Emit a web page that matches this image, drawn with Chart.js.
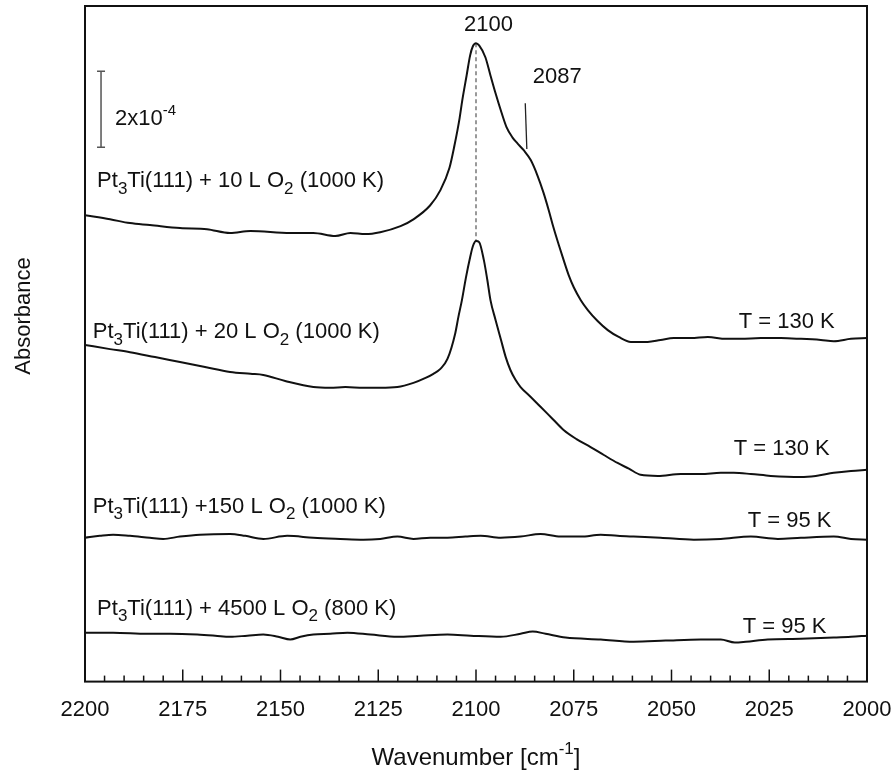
<!DOCTYPE html>
<html>
<head>
<meta charset="utf-8">
<script src="https://cdn.jsdelivr.net/npm/chart.js@4.4.1/dist/chart.umd.min.js"></script>
<style>
  body { margin: 0; background: #fff; }
  canvas { display: block; }
</style>
</head>
<body>
<canvas id="irChart" width="894" height="773"></canvas>
<script>
// IRAS spectra of CO on oxidised Pt3Ti(111), stacked with offsets (units of 1e-4)
const wn10  = [2200, 2193.6, 2188.5, 2183.4, 2175.7, 2168.8, 2162.9, 2157.7, 2147.5, 2141.6, 2136.0, 2132.1, 2128.3, 2124.5, 2119.3, 2116.0, 2111.7, 2109.1, 2106.8, 2105.5, 2104.2, 2103.5, 2102.4, 2101.5, 2100.8, 2100.0, 2099.2, 2097.6, 2096.3, 2095.0, 2093.5, 2092.2, 2090.7, 2089.4, 2087.8, 2086.0, 2084.3, 2082.7, 2081.4, 2080.2, 2078.9, 2077.6, 2076.3, 2075.0, 2073.2, 2071.4, 2068.9, 2066.3, 2063.5, 2060.4, 2056.1, 2052.8, 2049.4, 2045.1, 2040.7, 2036.1, 2032.3, 2027.1, 2022.0, 2016.9, 2011.8, 2008.5, 2004.1, 2000];
const abs10 = [12.29, 12.18, 12.08, 12.03, 11.95, 11.92, 11.82, 11.87, 11.82, 11.82, 11.74, 11.82, 11.79, 11.84, 12.00, 12.18, 12.55, 12.95, 13.53, 14.13, 14.84, 15.32, 15.97, 16.50, 16.74, 16.82, 16.76, 16.45, 15.97, 15.50, 15.00, 14.61, 14.34, 14.18, 14.00, 13.74, 13.34, 12.87, 12.42, 11.97, 11.53, 11.11, 10.71, 10.39, 10.05, 9.79, 9.50, 9.26, 9.08, 8.95, 8.95, 9.00, 9.05, 9.05, 9.08, 9.03, 9.03, 9.05, 9.05, 9.03, 9.00, 8.97, 9.03, 9.05];

const wn20  = [2200, 2193.6, 2188.5, 2182.1, 2175.7, 2169.3, 2162.9, 2157.7, 2154.4, 2148.8, 2141.6, 2137.3, 2133.4, 2128.8, 2124.5, 2120.1, 2116.0, 2112.9, 2110.9, 2109.1, 2107.3, 2105.3, 2104.5, 2103.6, 2102.6, 2101.5, 2100.8, 2100.0, 2099.2, 2098.0, 2097.1, 2096.3, 2095.0, 2093.6, 2092.4, 2091.2, 2089.9, 2088.6, 2086.0, 2083.5, 2080.4, 2077.6, 2074.3, 2070.7, 2067.3, 2063.8, 2060.9, 2057.9, 2053.5, 2047.6, 2042.5, 2037.4, 2034.1, 2029.7, 2024.6, 2016.9, 2013.1, 2008.5, 2004.1, 2000];
const abs20 = [8.87, 8.76, 8.68, 8.55, 8.42, 8.29, 8.16, 8.11, 8.08, 7.92, 7.76, 7.74, 7.76, 7.74, 7.74, 7.76, 7.87, 8.00, 8.11, 8.24, 8.50, 9.18, 9.61, 10.05, 10.63, 11.18, 11.47, 11.61, 11.58, 11.11, 10.58, 10.05, 9.53, 9.00, 8.55, 8.21, 7.95, 7.76, 7.50, 7.24, 6.92, 6.63, 6.39, 6.18, 5.97, 5.76, 5.61, 5.45, 5.42, 5.47, 5.47, 5.50, 5.50, 5.47, 5.42, 5.39, 5.42, 5.50, 5.55, 5.58];

const wn150  = [2200, 2196.2, 2192.8, 2188.5, 2183.4, 2180.0, 2175.7, 2170.6, 2162.9, 2159.0, 2154.4, 2148.3, 2141.6, 2134.7, 2128.8, 2124.5, 2120.1, 2116.0, 2111.7, 2107.3, 2102.7, 2098.8, 2093.7, 2088.6, 2083.5, 2078.4, 2073.2, 2068.1, 2063.8, 2059.7, 2052.8, 2044.3, 2037.4, 2029.7, 2022.8, 2016.9, 2008.5, 2004.1, 2000];
const abs150 = [3.79, 3.84, 3.87, 3.84, 3.79, 3.76, 3.82, 3.87, 3.89, 3.84, 3.76, 3.84, 3.79, 3.76, 3.74, 3.76, 3.82, 3.76, 3.79, 3.79, 3.82, 3.84, 3.79, 3.82, 3.89, 3.82, 3.82, 3.87, 3.84, 3.82, 3.79, 3.74, 3.76, 3.82, 3.76, 3.79, 3.82, 3.76, 3.74];

const wn4500  = [2200, 2192.8, 2184.1, 2178.2, 2171.3, 2166.7, 2162.9, 2158.5, 2154.4, 2150.6, 2147.5, 2144.9, 2141.6, 2137.3, 2132.9, 2127.0, 2120.1, 2114.2, 2107.3, 2101.4, 2093.7, 2088.6, 2085.5, 2082.2, 2077.1, 2068.1, 2059.7, 2051.5, 2042.5, 2037.4, 2033.8, 2031.0, 2025.4, 2016.9, 2008.5, 2004.1, 2000];
const abs4500 = [1.29, 1.29, 1.26, 1.26, 1.24, 1.21, 1.18, 1.21, 1.24, 1.18, 1.11, 1.18, 1.24, 1.26, 1.29, 1.24, 1.18, 1.21, 1.24, 1.21, 1.18, 1.26, 1.32, 1.26, 1.16, 1.11, 1.05, 1.08, 1.11, 1.11, 1.03, 1.05, 1.11, 1.13, 1.16, 1.18, 1.21];

// peak guide (2100) and shoulder mark (2087)
const peakWn = [2100, 2100];
const peakAbs = [16.82, 11.61];
const shoulderWn = [2087.4, 2087.0];
const shoulderAbs = [15.24, 14.03];

// scale bar: 2x10^-4
const barWn = 2195.9;
const barAbs = [14.08, 16.08];

const xTicks = [2200, 2175, 2150, 2125, 2100, 2075, 2050, 2025, 2000];

// text labels: [text, wavenumber, baseline value, align]
const notes = [
  ['Pt_{3}Ti(111) + 10 L O_{2} (1000 K)', 2196.9, 13.03, 'left'],
  ['Pt_{3}Ti(111) + 20 L O_{2} (1000 K)', 2198.0, 9.05, 'left'],
  ['Pt_{3}Ti(111) +150 L O_{2} (1000 K)', 2198.0, 4.45, 'left'],
  ['Pt_{3}Ti(111) + 4500 L O_{2} (800 K)', 2196.9, 1.76, 'left'],
  ['T = 130 K', 2032.8, 9.32, 'left'],
  ['T = 130 K', 2034.1, 5.97, 'left'],
  ['T = 95 K', 2030.5, 4.08, 'left'],
  ['T = 95 K', 2031.8, 1.29, 'left'],
  ['2100', 2096.8, 17.13, 'center'],
  ['2087', 2085.5, 15.76, 'left'],
  ['2x10^{-4}', 2192.3, 14.66, 'left']
];

const FONT = '"Liberation Sans", Arial, sans-serif';
const INK = '#111';
const TEXT_SIZE = 22;

function pairs(xs, ys) {
  return xs.map((x, i) => ({ x: x, y: ys[i] }));
}

function spectrum(xs, ys) {
  return {
    data: pairs(xs, ys),
    borderColor: INK,
    borderWidth: 2,
    pointRadius: 0,
    cubicInterpolationMode: 'monotone',
    fill: false
  };
}

// split "Pt_{3}" / "10^{-4}" into runs of normal, sub and sup text
function parseRich(str) {
  const runs = [];
  const re = /([_^])\{([^}]*)\}/g;
  let last = 0, m;
  while ((m = re.exec(str)) !== null) {
    if (m.index > last) runs.push({ t: str.slice(last, m.index), k: 'n' });
    runs.push({ t: m[2], k: m[1] === '_' ? 'sub' : 'sup' });
    last = re.lastIndex;
  }
  if (last < str.length) runs.push({ t: str.slice(last), k: 'n' });
  return runs;
}

function drawRich(ctx, str, x, y, size, align) {
  const runs = parseRich(str);
  const fontOf = r => (r.k === 'n' ? size : Math.round(size * (r.k === 'sub' ? 0.78 : 0.7))) + 'px ' + FONT;
  let total = 0;
  runs.forEach(r => { ctx.font = fontOf(r); r.w = ctx.measureText(r.t).width; total += r.w; });
  let cx = align === 'center' ? x - total / 2 : (align === 'right' ? x - total : x);
  ctx.textAlign = 'left';
  ctx.textBaseline = 'alphabetic';
  runs.forEach(r => {
    ctx.font = fontOf(r);
    let dy = 0;
    if (r.k === 'sub') dy = size * 0.3;
    if (r.k === 'sup') dy = -size * 0.46;
    ctx.fillText(r.t, cx, y + dy);
    cx += r.w;
  });
}

const decorPlugin = {
  id: 'decor',
  afterDraw(chart) {
    const ctx = chart.ctx;
    const area = chart.chartArea;
    const xs = chart.scales.x, ys = chart.scales.y;
    ctx.save();

    // frame
    ctx.strokeStyle = INK;
    ctx.lineWidth = 2;
    ctx.strokeRect(area.left, area.top, area.right - area.left, area.bottom - area.top);

    // inward tick marks along the bottom axis, minor every 5
    ctx.lineWidth = 1.5;
    for (let v = 2000; v <= 2200; v += 5) {
      const px = xs.getPixelForValue(v);
      const len = (v % 25 === 0) ? 12 : 6;
      ctx.beginPath();
      ctx.moveTo(px, area.bottom);
      ctx.lineTo(px, area.bottom - len);
      ctx.stroke();
    }

    // scale bar
    const bx = xs.getPixelForValue(barWn);
    const b0 = ys.getPixelForValue(barAbs[0]), b1 = ys.getPixelForValue(barAbs[1]);
    ctx.strokeStyle = '#555';
    ctx.lineWidth = 1.5;
    ctx.beginPath();
    ctx.moveTo(bx, b0); ctx.lineTo(bx, b1);
    ctx.moveTo(bx - 4, b0); ctx.lineTo(bx + 4, b0);
    ctx.moveTo(bx - 4, b1); ctx.lineTo(bx + 4, b1);
    ctx.stroke();

    // labels
    ctx.fillStyle = INK;
    notes.forEach(n => {
      drawRich(ctx, n[0], xs.getPixelForValue(n[1]), ys.getPixelForValue(n[2]), TEXT_SIZE, n[3]);
    });

    // axis titles
    drawRich(ctx, 'Wavenumber [cm^{-1}]', (area.left + area.right) / 2, 765, 24, 'center');
    ctx.translate(30, 316);
    ctx.rotate(-Math.PI / 2);
    drawRich(ctx, 'Absorbance', 0, 0, 22, 'center');
    ctx.restore();
  }
};

const ctx = document.getElementById('irChart').getContext('2d');
const irChart = new Chart(ctx, {
  type: 'line',
  data: {
    datasets: [
      spectrum(wn10, abs10),
      spectrum(wn20, abs20),
      spectrum(wn150, abs150),
      spectrum(wn4500, abs4500),
      {
        data: pairs(peakWn, peakAbs),
        borderColor: '#555',
        borderWidth: 1.2,
        borderDash: [4, 3],
        pointRadius: 0
      },
      {
        data: pairs(shoulderWn, shoulderAbs),
        borderColor: '#222',
        borderWidth: 1.3,
        pointRadius: 0
      }
    ]
  },
  options: {
    responsive: false,
    animation: false,
    layout: { padding: { left: 85, right: 27, top: 6, bottom: 35 } },
    plugins: {
      legend: { display: false },
      tooltip: { enabled: false }
    },
    scales: {
      x: {
        type: 'linear',
        reverse: true,
        min: 2000,
        max: 2200,
        afterBuildTicks: axis => { axis.ticks = xTicks.map(v => ({ value: v })); },
        afterFit: axis => { axis.paddingLeft = 0; axis.paddingRight = 0; },
        ticks: {
          autoSkip: false,
          maxRotation: 0,
          padding: 15,
          color: INK,
          font: { family: FONT, size: TEXT_SIZE },
          callback: v => String(v)
        },
        grid: { display: false, drawTicks: false },
        border: { display: false }
      },
      y: {
        display: false,
        min: 0,
        max: 17.8
      }
    }
  },
  plugins: [decorPlugin]
});
</script>
</body>
</html>
